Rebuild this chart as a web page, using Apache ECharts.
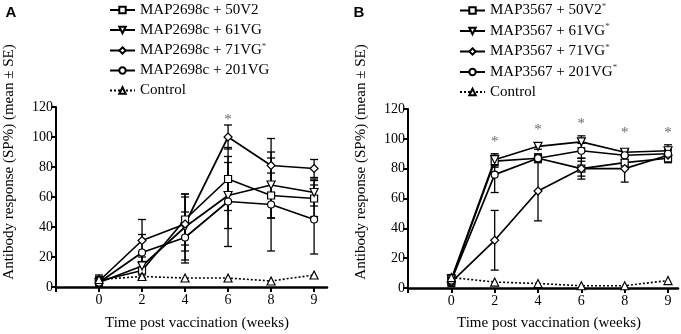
<!DOCTYPE html>
<html>
<head>
<meta charset="utf-8">
<script src="https://cdn.jsdelivr.net/npm/echarts@6/dist/echarts.min.js"></script>
<style>
html, body { margin: 0; padding: 0; background: #fff; }
#chart { width: 681px; height: 334px; }
</style>
</head>
<body>
<div id="chart"></div>
<script>
var weeks = ['0', '2', '4', '6', '8', '9'];

// panel A: MAP2698c
var namesA = ['MAP2698c + 50V2', 'MAP2698c + 61VG', 'MAP2698c + 71VG*', 'MAP2698c + 201VG', 'Control'];
var a50 = [4, 11, 45, 72, 61, 59];
var a50se = [3, 5, 17, 21, 15, 12];
var a61 = [3, 14, 40, 61, 68, 63];
var a61se = [3, 6, 22, 22, 22, 9];
var a71 = [4, 31, 42, 100, 81, 79];
var a71se = [4, 14, 18, 8, 18, 6];
var a201 = [3, 23, 33, 57, 55, 45];
var a201se = [3, 12, 17, 30, 31, 23];
var aCtrl = [5, 7, 6, 6, 4, 8];
var starsA = [[3, 111]];

// panel B: MAP3567
var namesB = ['MAP3567 + 50V2*', 'MAP3567 + 61VG*', 'MAP3567 + 71VG*', 'MAP3567 + 201VG*', 'Control'];
var b50 = [5, 85, 87, 80, 84, 87];
var b50se = [3, 4, 3, 7, 4, 3];
var b61 = [6, 86, 95, 98, 91, 92];
var b61se = [3, 4, 2, 4, 2, 4];
var b71 = [4, 32, 65, 80, 80, 89];
var b71se = [3, 20, 20, 5, 9, 3];
var b201 = [5, 76, 87, 92, 89, 90];
var b201se = [3, 12, 2, 5, 3, 3];
var bCtrl = [7, 4, 3, 1.5, 1.5, 5];
var starsB = [[1, 98], [2, 106], [3, 110], [4, 104], [5, 104]];

var serif = 'Liberation Serif';
var symbols = [
    { symbol: 'rect', rotate: 0, size: 7 },
    { symbol: 'triangle', rotate: 180, size: 8 },
    { symbol: 'diamond', rotate: 0, size: 8 },
    { symbol: 'circle', rotate: 0, size: 7 }
];

function pts(vals) {
    return vals.map(function (v, i) { return [i, v]; });
}
function errs(vals, se) {
    return vals.map(function (v, i) { return [i, Math.max(0, v - se[i]), v + se[i]]; });
}
function renderErr(params, api) {
    var x = api.value(0);
    var top = api.coord([x, api.value(2)]);
    var bot = api.coord([x, api.value(1)]);
    var w = 4;
    var st = { stroke: '#000', lineWidth: 1.3 };
    return {
        type: 'group',
        children: [
            { type: 'line', shape: { x1: top[0], y1: top[1], x2: bot[0], y2: bot[1] }, style: st },
            { type: 'line', shape: { x1: top[0] - w, y1: top[1], x2: top[0] + w, y2: top[1] }, style: st },
            { type: 'line', shape: { x1: bot[0] - w, y1: bot[1], x2: bot[0] + w, y2: bot[1] }, style: st }
        ]
    };
}

function panelSeries(idx, names, groups, ctrl, stars) {
    var out = [];
    groups.forEach(function (g) {
        out.push({
            type: 'custom', xAxisIndex: idx, yAxisIndex: idx,
            renderItem: renderErr, data: errs(g[0], g[1]), z: 2, silent: true
        });
    });
    groups.forEach(function (g, k) {
        out.push({
            type: 'line', name: names[k], xAxisIndex: idx, yAxisIndex: idx,
            data: pts(g[0]),
            symbol: symbols[k].symbol, symbolRotate: symbols[k].rotate, symbolSize: symbols[k].size,
            lineStyle: { color: '#000', width: 1.7 },
            itemStyle: { color: '#fff', borderColor: '#000', borderWidth: 1.2 },
            z: 3, animation: false
        });
    });
    out.push({
        type: 'line', name: names[4], xAxisIndex: idx, yAxisIndex: idx,
        data: pts(ctrl),
        symbol: 'triangle', symbolSize: 8,
        lineStyle: { color: '#000', width: 1.6, type: [2, 2] },
        itemStyle: { color: '#fff', borderColor: '#000', borderWidth: 1.2 },
        z: 3, animation: false
    });
    out.push({
        type: 'scatter', xAxisIndex: idx, yAxisIndex: idx,
        data: stars, symbolSize: 0, silent: true,
        label: { show: true, position: 'inside', formatter: '*', color: '#444', fontSize: 15, fontFamily: serif }
    });
    return out;
}

function xAxisCfg(idx, max) {
    return {
        gridIndex: idx, type: 'value', min: -1, max: max,
        axisLine: { onZero: false, lineStyle: { color: '#000', width: 2.5 } },
        axisTick: { customValues: [-1, 0, 1, 2, 3, 4, 5], length: 5, lineStyle: { color: '#000', width: 2 } },
        axisLabel: {
            customValues: [0, 1, 2, 3, 4, 5],
            formatter: function (v) { return weeks[v]; },
            margin: 6, color: '#000', fontSize: 14, fontFamily: serif
        },
        splitLine: { show: false }
    };
}
function yAxisCfg(idx) {
    return {
        gridIndex: idx, type: 'value', min: 0, max: 120, interval: 20,
        axisLine: { show: true, onZero: false, lineStyle: { color: '#000', width: 2 } },
        axisTick: { show: true, length: 5, lineStyle: { color: '#000', width: 2 } },
        axisLabel: { margin: 3, color: '#000', fontSize: 14, fontFamily: serif },
        splitLine: { show: false }
    };
}
function legendCfg(names, left) {
    return {
        data: names, left: left, top: -3, orient: 'vertical',
        itemWidth: 25, itemHeight: 8, itemGap: 4,
        selectedMode: false,
        formatter: function (n) { return n.replace('*', '{sup|*}'); },
        textStyle: {
            color: '#000', fontSize: 15, fontFamily: serif, lineHeight: 16,
            rich: { sup: { fontSize: 9, fontFamily: serif, color: '#444', padding: [0, 0, 8, 0] } }
        }
    };
}

var chart = echarts.init(document.getElementById('chart'), null, { renderer: 'canvas' });
var series = [].concat(
    panelSeries(0, namesA, [[a50, a50se], [a61, a61se], [a71, a71se], [a201, a201se]], aCtrl, starsA),
    panelSeries(1, namesB, [[b50, b50se], [b61, b61se], [b71, b71se], [b201, b201se]], bCtrl, starsB)
);
var yTitle = 'Antibody response (SP%) (mean \u00b1 SE)';
var xTitle = 'Time post vaccination (weeks)';
chart.setOption({
    animation: false,
    backgroundColor: '#fff',
    grid: [
        { left: 56, top: 107, width: 271, height: 180 },
        { left: 408, top: 109, width: 270, height: 179 }
    ],
    xAxis: [xAxisCfg(0, 5.3), xAxisCfg(1, 5.23)],
    yAxis: [yAxisCfg(0), yAxisCfg(1)],
    legend: [legendCfg(namesA, 104), legendCfg(namesB, 454)],
    graphic: [
        { type: 'text', x: 11, y: 13, style: { text: 'A', font: 'bold 15px Liberation Sans', fill: '#000', align: 'center', verticalAlign: 'middle' } },
        { type: 'text', x: 359, y: 13, style: { text: 'B', font: 'bold 15px Liberation Sans', fill: '#000', align: 'center', verticalAlign: 'middle' } },
        { type: 'text', x: 9, y: 162, rotation: Math.PI / 2, style: { text: yTitle, font: '15px Liberation Serif', fill: '#000', align: 'center', verticalAlign: 'middle' } },
        { type: 'text', x: 361, y: 162, rotation: Math.PI / 2, style: { text: yTitle, font: '15px Liberation Serif', fill: '#000', align: 'center', verticalAlign: 'middle' } },
        { type: 'text', x: 197, y: 323, style: { text: xTitle, font: '15px Liberation Serif', fill: '#000', align: 'center', verticalAlign: 'middle' } },
        { type: 'text', x: 549, y: 323, style: { text: xTitle, font: '15px Liberation Serif', fill: '#000', align: 'center', verticalAlign: 'middle' } }
    ],
    series: series
});
</script>
</body>
</html>
